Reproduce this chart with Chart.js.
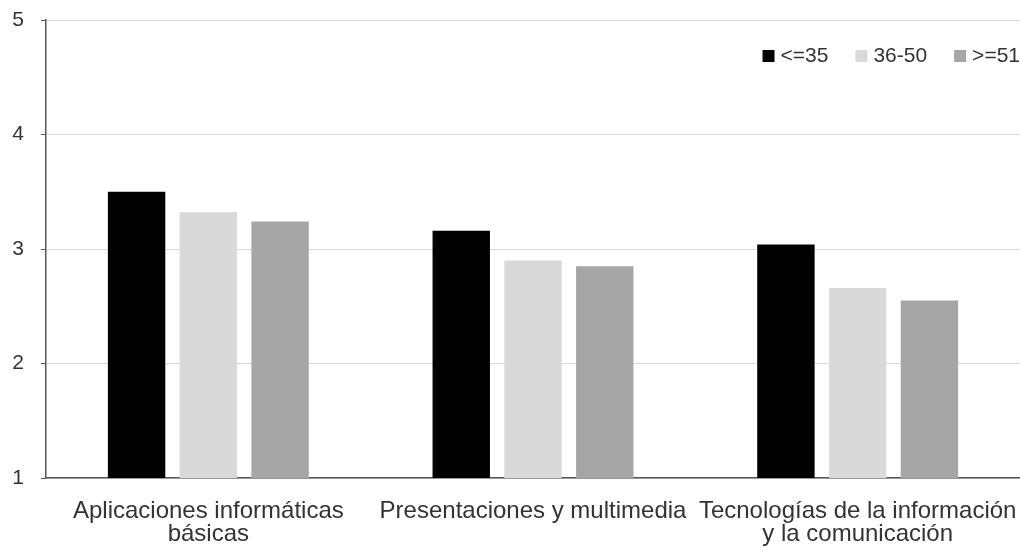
<!DOCTYPE html>
<html>
<head>
<meta charset="utf-8">
<script src="https://cdn.jsdelivr.net/npm/chart.js@4/dist/chart.umd.min.js"></script>
<style>
  html, body { margin: 0; padding: 0; background: #fff; }
  #wrap { width: 1020px; height: 548px; }
</style>
</head>
<body>
<div id="wrap"><canvas id="grafica"></canvas></div>
<script>
// categorias y valores
const categorias = [
    ['Aplicaciones informáticas', 'básicas'],
    'Presentaciones y multimedia',
    ['Tecnologías de la información', 'y la comunicación']
];
const grupos = ['<=35', '36-50', '>=51'];
const edad35 = [3.50, 3.16, 3.04];
const edad36a50 = [3.32, 2.90, 2.66];
const edad51 = [3.24, 2.85, 2.55];
const ticksY = [1, 2, 3, 4, 5];

const fuente = '"Liberation Sans", Arial, sans-serif';
Chart.defaults.font.family = fuente;
Chart.defaults.color = '#333333';

// leyenda dibujada dentro del area, arriba a la derecha
const leyendaArriba = {
    id: 'leyendaArriba',
    afterDraw(chart) {
        const c = chart.ctx;
        const area = chart.chartArea;
        const caja = 12, hueco = 6, entre = 27;
        c.save();
        c.font = '21px ' + fuente;
        c.textBaseline = 'middle';
        const items = chart.data.datasets.map(ds => ({
            texto: ds.label,
            color: ds.backgroundColor,
            ancho: c.measureText(ds.label).width
        }));
        let total = 0;
        items.forEach((it, i) => { total += caja + hueco + it.ancho + (i ? entre : 0); });
        let x = area.right - total;
        const y = 56;
        items.forEach(it => {
            c.fillStyle = it.color;
            c.fillRect(x, y - 6, caja, caja);
            x += caja + hueco;
            c.fillStyle = '#333333';
            c.fillText(it.texto, x, y);
            x += it.ancho + entre;
        });
        c.restore();
    }
};

const ctx = document.getElementById('grafica').getContext('2d');
new Chart(ctx, {
    type: 'bar',
    data: {
        labels: categorias,
        datasets: [
            { label: grupos[0], data: edad35, backgroundColor: '#000000' },
            { label: grupos[1], data: edad36a50, backgroundColor: '#d9d9d9' },
            { label: grupos[2], data: edad51, backgroundColor: '#a6a6a6' }
        ]
    },
    plugins: [leyendaArriba],
    options: {
        responsive: true,
        maintainAspectRatio: false,
        animation: false,
        layout: { padding: { top: 20, right: 0, left: 0, bottom: 0 } },
        datasets: {
            bar: { categoryPercentage: 0.663, barPercentage: 0.8 }
        },
        plugins: {
            legend: { display: false },
            tooltip: { enabled: false }
        },
        scales: {
            x: {
                grid: { display: false, drawTicks: false },
                border: { color: '#595959', width: 1.5 },
                ticks: {
                    font: { size: 24, lineHeight: 0.96 },
                    padding: 22,
                    maxRotation: 0,
                    autoSkip: false
                },
                afterFit: function (axis) {
                    axis.height = 70;
                    axis.paddingLeft = 0;
                    axis.paddingRight = 0;
                }
            },
            y: {
                min: 1,
                max: 5,
                afterBuildTicks: function (axis) {
                    axis.ticks = ticksY.map(v => ({ value: v }));
                },
                grid: {
                    color: '#d9d9d9',
                    tickColor: '#595959',
                    tickLength: 5
                },
                border: { color: '#595959', width: 1.5 },
                ticks: {
                    font: { size: 21 },
                    padding: 17
                },
                afterFit: function (axis) {
                    axis.width = 46;
                    axis.paddingTop = 0;
                    axis.paddingBottom = 0;
                }
            }
        }
    }
});
</script>
</body>
</html>
